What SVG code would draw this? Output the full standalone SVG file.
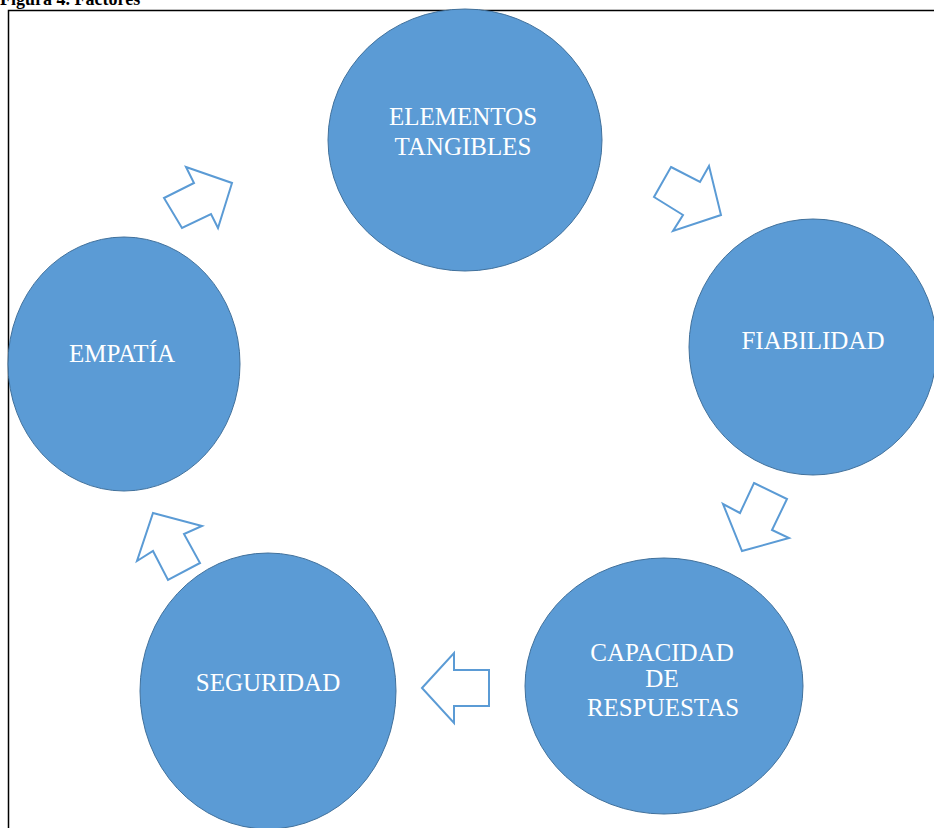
<svg xmlns="http://www.w3.org/2000/svg" width="934" height="828" viewBox="0 0 934 828">
  <style>
    .node { fill: #5B9BD5; stroke: #41719C; stroke-width: 1; }
    .label { fill: #FFFFFF; font-family: "Liberation Serif", "Times New Roman", serif; font-size: 25px; text-anchor: middle; }
    .arrow { fill: #FFFFFF; stroke: #5B9BD5; stroke-width: 2; stroke-linejoin: miter; }
    .frame { fill: none; stroke: #000000; stroke-width: 1.5; }
    .title { font-family: "Liberation Serif", "Times New Roman", serif; font-size: 18px; font-weight: bold; fill: #000000; }
  </style>
  <rect width="934" height="828" fill="#FFFFFF"/>

  <!-- caption, clipped at the top edge -->
  <text class="title" x="0" y="5">Figura 4. Factores</text>

  <!-- frame -->
  <path class="frame" d="M8.5 828 V10.5 H934"/>

  <!-- cycle arrows -->
  <g id="connectors">
    <polygon class="arrow" points="186,167 232,183 218,228 211,214 182,228 164,198 194,183"/>
    <polygon class="arrow" points="671,167 700,182 709,166 721,215 673,231 683,215 654,197"/>
    <polygon class="arrow" points="754,483 787,499 772,530 789,538 742,551 723,504 740,513"/>
    <polygon class="arrow" points="422,688 454,653 454,670 489,670 489,706 454,706 454,723"/>
    <polygon class="arrow" points="153,513 202,526 184,534 200,563 168,580 153,551 137,561"/>
  </g>

  <g id="elementos-tangibles">
    <ellipse class="node" cx="465" cy="140" rx="137" ry="131"/>
    <text class="label" x="463" y="125">ELEMENTOS</text>
    <text class="label" x="463" y="155">TANGIBLES</text>
  </g>

  <g id="fiabilidad">
    <ellipse class="node" cx="813" cy="347" rx="124" ry="128"/>
    <text class="label" x="813" y="349">FIABILIDAD</text>
  </g>

  <g id="capacidad-de-respuestas">
    <ellipse class="node" cx="664" cy="686" rx="139" ry="128"/>
    <text class="label" x="662" y="661">CAPACIDAD</text>
    <text class="label" x="662" y="687">DE</text>
    <text class="label" x="663" y="716">RESPUESTAS</text>
  </g>

  <g id="seguridad">
    <ellipse class="node" cx="268" cy="691" rx="128" ry="138"/>
    <text class="label" x="268" y="691">SEGURIDAD</text>
  </g>

  <g id="empatia">
    <ellipse class="node" cx="124" cy="364" rx="116" ry="127"/>
    <text class="label" x="122" y="362">EMPATÍA</text>
  </g>
</svg>
